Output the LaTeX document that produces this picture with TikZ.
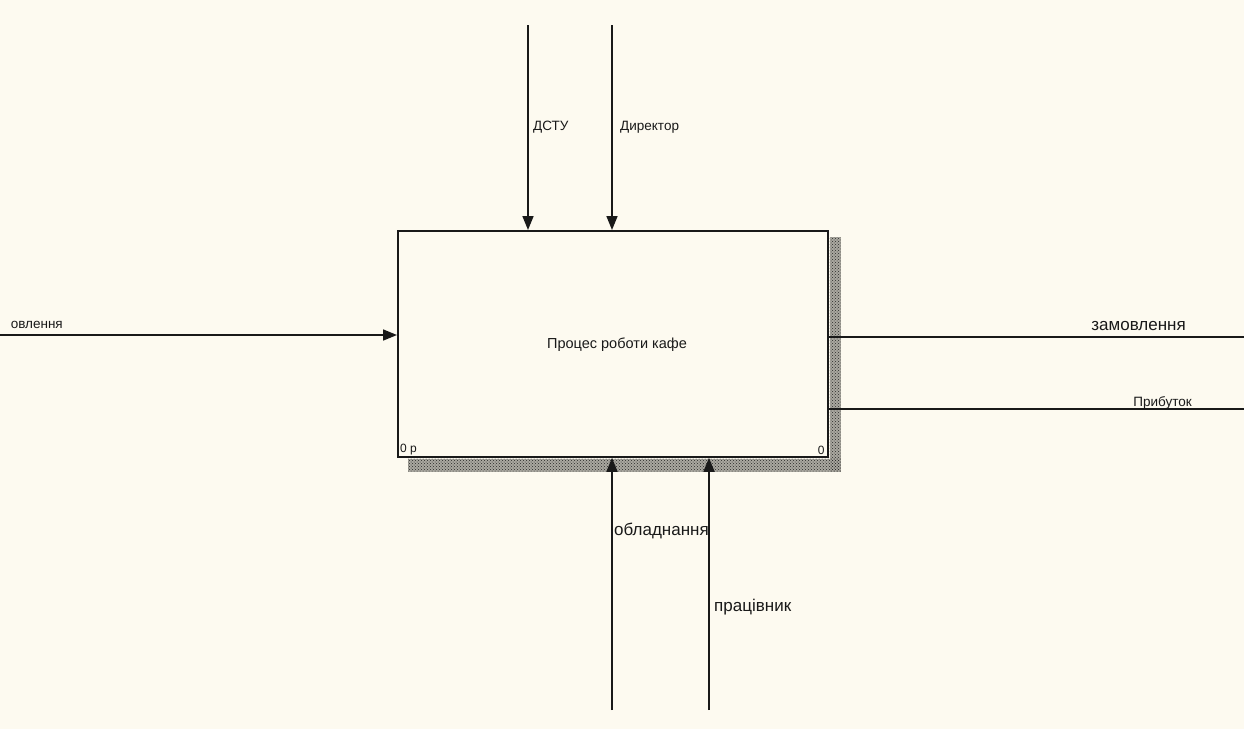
\documentclass[tikz,border=0pt]{standalone}
\usepackage{fontspec}
\setmainfont{Liberation Sans}
\usetikzlibrary{positioning, arrows.meta, patterns, calc}
\usepackage{xcolor}
\definecolor{papercolor}{RGB}{253, 250, 240}
\definecolor{inkcolor}{RGB}{25, 25, 25}
\definecolor{shadecolor}{RGB}{40, 40, 40}
\definecolor{shadebase}{RGB}{170, 168, 160}

\begin{document}
\begin{tikzpicture}[x=1pt, y=-1pt,
    flow/.style={draw=inkcolor, line width=1.7pt, -{Triangle[length=14pt, width=11pt]}},
    outflow/.style={draw=inkcolor, line width=1.7pt},
    smalltext/.style={font=\fontsize{13.5}{15}\selectfont, text=inkcolor, inner sep=0pt},
    bigtext/.style={font=\fontsize{17}{19}\selectfont, text=inkcolor, inner sep=0pt}]
        \fill[papercolor] (0,0) rectangle (1244,729);
        \useasboundingbox (0,0) rectangle (1244,729);
        \clip (0,0) rectangle (1244,729);
        % activity box with its shadow
        \node[draw=inkcolor, line width=1.8pt, fill=papercolor, anchor=north west,
              minimum width=430pt, minimum height=226pt, inner sep=0pt] (proc) at (397,230) {};
        \fill[shadebase] ($(proc.north east)+(1,7)$) rectangle ($(proc.south east)+(12,14)$);
        \fill[shadebase] ($(proc.south west)+(11,1)$) rectangle ($(proc.south east)+(12,14)$);
        \fill[pattern=crosshatch dots, pattern color=shadecolor]
              ($(proc.north east)+(1,7)$) rectangle ($(proc.south east)+(12,14)$);
        \fill[pattern=crosshatch dots, pattern color=shadecolor]
              ($(proc.south west)+(11,1)$) rectangle ($(proc.south east)+(12,14)$);
        \node[font=\fontsize{14.5}{16}\selectfont, text=inkcolor] (proc title) at (617,345) {Процес роботи кафе};
        \node[smalltext, font=\fontsize{12}{13}\selectfont, anchor=south west] (proc num)
              at ($(proc.south west)+(3,-3)$) {0 р};
        \node[smalltext, font=\fontsize{12}{13}\selectfont, anchor=south east] (proc cost)
              at ($(proc.south east)+(-4,-3)$) {0};
        % controls
        \coordinate (dstu in) at (528,25);
        \coordinate (boss in) at (612,25);
        \draw[flow] (dstu in) -- (dstu in |- proc.north);
        \draw[flow] (boss in) -- (boss in |- proc.north);
        \node[smalltext, anchor=west] (dstu label) at (533,127) {ДСТУ};
        \node[smalltext, anchor=west] (boss label) at (620,127) {Директор};
        % input
        \coordinate (order in) at (0,335);
        \draw[flow] (order in) -- (order in -| proc.west);
        \node[smalltext, anchor=east] (order in label) at (63,325) {овлення};
        % outputs
        \coordinate (order out) at (1244,337);
        \coordinate (profit out) at (1244,409);
        \draw[outflow] (order out -| proc.east) -- (order out);
        \draw[outflow] (profit out -| proc.east) -- (profit out);
        \node[bigtext, anchor=east] (order out label) at (1186,326) {замовлення};
        \node[smalltext, anchor=east] (profit label) at (1192,403) {Прибуток};
        % mechanisms
        \coordinate (tools in) at (612,710);
        \coordinate (staff in) at (709,710);
        \draw[flow] (tools in) -- (tools in |- proc.south);
        \draw[flow] (staff in) -- (staff in |- proc.south);
        \node[bigtext, anchor=west] (tools label) at (614,531) {обладнання};
        \node[bigtext, anchor=west] (staff label) at (714,607) {працівник};
      \end{tikzpicture}
\end{document}
